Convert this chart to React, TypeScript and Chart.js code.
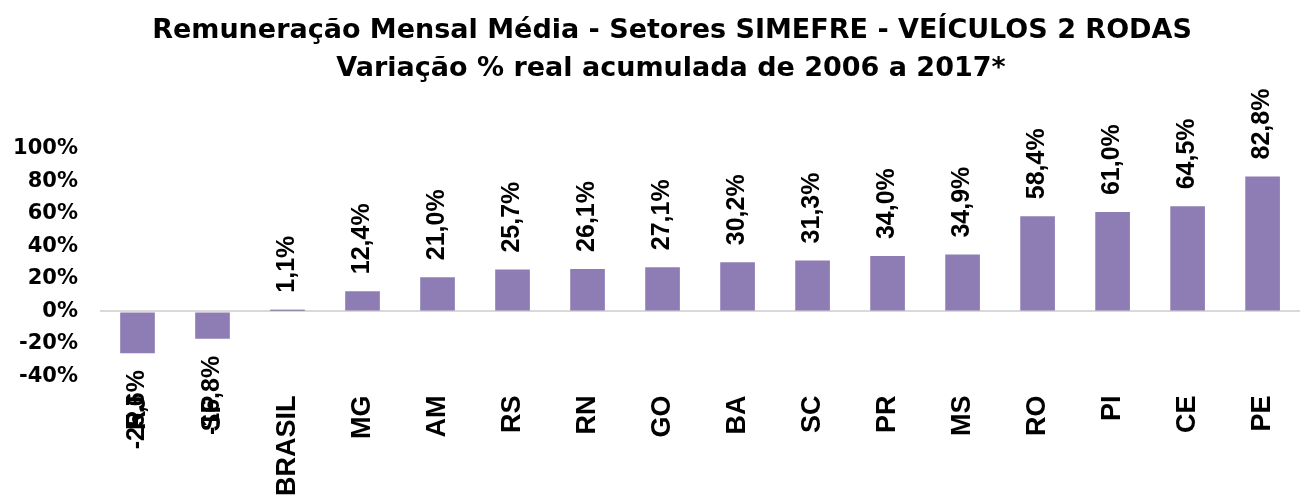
import React, { useEffect, useRef } from 'react';
import { Chart, registerables } from 'chart.js';

Chart.register(...registerables);

const categories = ['RJ', 'SP', 'BRASIL', 'MG', 'AM', 'RS', 'RN', 'GO', 'BA', 'SC', 'PR', 'MS', 'RO', 'PI', 'CE', 'PE'];
const values = [-25.6, -16.8, 1.1, 12.4, 21.0, 25.7, 26.1, 27.1, 30.2, 31.3, 34.0, 34.9, 58.4, 61.0, 64.5, 82.8];
const yMin = -40;
const yMax = 100;
const yStep = 20;
const titleLines = [
  'Remuneração Mensal Média - Setores SIMEFRE - VEÍCULOS 2 RODAS',
  'Variação % real acumulada de 2006 a 2017*',
];

const BAR = '#8E7CB4';
const BAR_BRASIL = '#4A3F78';

const fmt = (v: number) => v.toFixed(1).replace('.', ',') + '%';

const titlePlugin = {
  id: 'customTitle',
  afterDraw(chart: any) {
    const ctx = chart.ctx;
    ctx.save();
    ctx.fillStyle = '#000';
    ctx.font = 'bold 27px "DejaVu Sans"';
    ctx.textAlign = 'center';
    ctx.textBaseline = 'alphabetic';
    ctx.fillText(titleLines[0], 672, 38);
    ctx.fillText(titleLines[1], 671, 76);
    ctx.restore();
  },
};

const labelPlugin = {
  id: 'barLabels',
  afterDatasetsDraw(chart: any) {
    const ctx = chart.ctx;
    const meta = chart.getDatasetMeta(0);
    ctx.save();
    ctx.fillStyle = '#000';
    ctx.font = 'bold 25px "Liberation Sans"';
    ctx.textBaseline = 'middle';
    meta.data.forEach((el: any, i: number) => {
      const v = values[i];
      const gap = 17;
      ctx.save();
      if (v >= 0) {
        ctx.translate(el.x, el.y - gap);
        ctx.rotate(-Math.PI / 2);
        ctx.textAlign = 'left';
      } else {
        ctx.translate(el.x, el.y + gap);
        ctx.rotate(-Math.PI / 2);
        ctx.textAlign = 'right';
      }
      ctx.fillText(fmt(v), 0, 0);
      ctx.restore();
    });
    ctx.restore();
  },
};

export default function App() {
  const ref = useRef<HTMLCanvasElement | null>(null);
  useEffect(() => {
    document.body.style.overflow = 'hidden';
    const canvas = ref.current!;
    const chart = new Chart(canvas, {
      type: 'bar',
      data: {
        labels: categories,
        datasets: [
          {
            data: values,
            backgroundColor: categories.map((c) => (c === 'BRASIL' ? BAR_BRASIL : BAR)),
            barPercentage: 0.462,
            categoryPercentage: 1,
          },
        ],
      },
      options: {
        animation: false,
        responsive: false,
        devicePixelRatio: 1,
        layout: { padding: { top: 148.5, left: 0, right: 0, bottom: 0 } },
        plugins: {
          legend: { display: false },
          title: { display: false },
          tooltip: { enabled: false },
        },
        scales: {
          x: {
            grid: { display: false, drawTicks: false },
            border: { display: false },
            ticks: {
              autoSkip: false,
              minRotation: 90,
              maxRotation: 90,
              padding: 19,
              color: '#000',
              font: { family: '"Liberation Sans"', size: 27, weight: 'bold' },
            },
            afterFit: (s: any) => {
              s.height = 122.4;
            },
          },
          y: {
            min: yMin,
            max: yMax,
            border: { display: false },
            grid: {
              drawTicks: false,
              color: (c: any) => (c.tick && c.tick.value === 0 ? '#D9D9D9' : 'rgba(0,0,0,0)'),
              lineWidth: (c: any) => (c.tick && c.tick.value === 0 ? 2 : 0),
            },
            ticks: {
              stepSize: yStep,
              padding: 22,
              color: '#000',
              font: { family: '"DejaVu Sans"', size: 21, weight: 'bold' },
              callback: (v: any) => `${v}%`,
            },
            afterFit: (s: any) => {
              s.width = 100;
            },
          },
        },
      },
      plugins: [titlePlugin, labelPlugin],
    });
    return () => chart.destroy();
  }, []);
  return (
    <div style={{ position: 'fixed', left: 0, top: 0, width: 1304, height: 499, overflow: 'hidden', background: '#fff' }}>
      <canvas ref={ref} width={1314} height={499} style={{ width: 1314, height: 499, display: 'block' }} />
    </div>
  );
}
